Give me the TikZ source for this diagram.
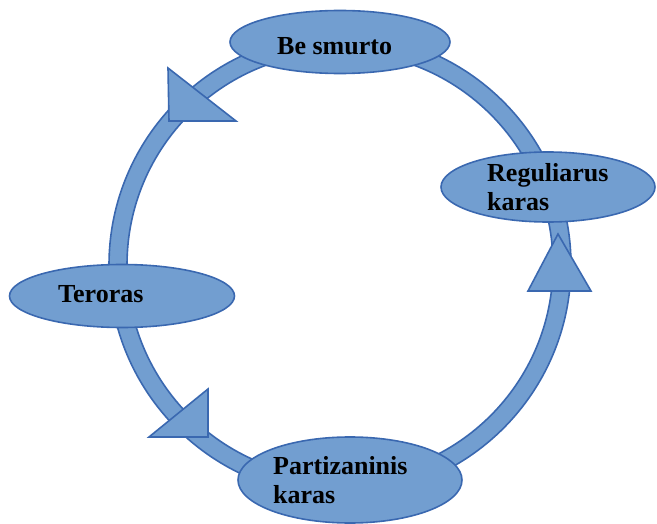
\documentclass[tikz,border=0pt]{standalone}
\usepackage{fontspec}
\setmainfont{Liberation Serif}
\usetikzlibrary{shapes.geometric}
\definecolor{fillblue}{RGB}{114,158,208}
\definecolor{lineblue}{RGB}{58,104,176}
\tikzset{
  shapestyle/.style={fill=fillblue, draw=lineblue, line width=1.6pt, line join=miter},
  bubble/.style={shapestyle, ellipse, inner sep=0pt},
  lbl/.style={anchor=base west, inner sep=0pt, align=left,
    font=\fontsize{26pt}{29pt}\selectfont\bfseries, text=black},
}
\begin{document}
\begin{tikzpicture}[x=1pt, y=-1pt]
\useasboundingbox (0,0) rectangle (657,524);
% ring
\coordinate (c) at (340,265);
\draw[shapestyle, even odd rule] (c) circle[radius=231] (c) circle[radius=213];
% arrowhead triangles
\draw[shapestyle] (168,68) -- (169,121) -- (236,121) -- cycle;
\draw[shapestyle] (558,234) -- (528,291) -- (591,291) -- cycle;
\draw[shapestyle] (208,389) -- (208,437) -- (149,437) -- cycle;
% ellipses
\node[bubble, minimum width=220pt, minimum height=63pt] (top) at (340,42) {};
\node[bubble, minimum width=214pt, minimum height=70pt] (right) at (548,187) {};
\node[bubble, minimum width=225pt, minimum height=63pt] (left) at (122,296) {};
\node[bubble, minimum width=224pt, minimum height=86pt] (bottom) at (350,480) {};
% labels
\node[lbl] (ttop) at (277,55) {Be smurto};
\node[lbl] (tright) at (487,211) {Reguliarus\\karas};
\node[lbl] (tleft) at (58,303) {Teroras};
\node[lbl] (tbottom) at (273,503) {Partizaninis\\karas};
\end{tikzpicture}
\end{document}
